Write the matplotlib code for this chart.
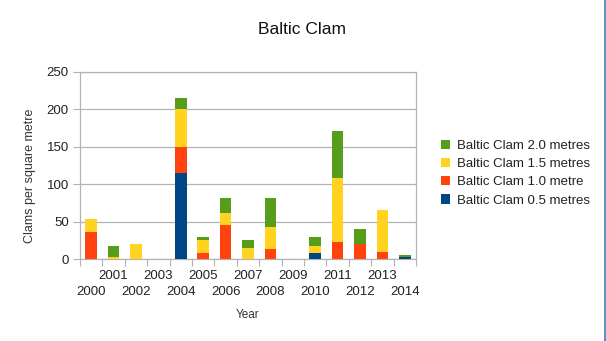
import matplotlib
matplotlib.use("Agg")
import matplotlib.pyplot as plt
import numpy as np

plt.rcParams['font.family'] = ['Liberation Sans', 'DejaVu Sans']

years = ["2000", "2001", "2002", "2003", "2004", "2005", "2006", "2007",
         "2008", "2009", "2010", "2011", "2012", "2013", "2014"]
clam_05 = [0, 0, 0, 0, 115, 0, 0, 0, 0, 0, 8, 0, 0, 0, 3]
clam_10 = [36, 0, 0, 0, 35, 8, 45, 0, 13, 0, 0, 23, 20, 10, 0]
clam_15 = [17, 3, 20, 0, 50, 18, 17, 15, 30, 0, 10, 85, 0, 55, 0]
clam_20 = [0, 15, 0, 0, 15, 3, 20, 10, 38, 0, 12, 63, 20, 0, 2]

series = [
    ("Baltic Clam 0.5 metres", clam_05, "#004586"),
    ("Baltic Clam 1.0 metre", clam_10, "#ff420e"),
    ("Baltic Clam 1.5 metres", clam_15, "#ffd320"),
    ("Baltic Clam 2.0 metres", clam_20, "#579d1c"),
]

fig = plt.figure(figsize=(6.06, 3.41), dpi=100)
ax = fig.add_axes([80 / 606, (341 - 259) / 341, (416 - 80) / 606, (259 - 72) / 341])

x = np.arange(len(years))
bottom = np.zeros(len(years))
handles = []
for label, vals, color in series:
    v = np.array(vals, dtype=float)
    h = ax.bar(x, v, width=0.52, bottom=bottom, color=color, label=label, zorder=3)
    handles.append(h)
    bottom += v

ax.set_xlim(-0.5, len(years) - 0.5)
ax.set_ylim(0, 250)
ax.set_yticks(np.arange(0, 251, 50))
ax.yaxis.grid(True, color="#b3b3b3", linewidth=0.9, zorder=0)
for s in ax.spines.values():
    s.set_color("#b3b3b3")
    s.set_linewidth(0.9)

ax.set_xticks(np.arange(-0.5, len(years), 1.0))
ax.set_xticklabels([])
for i, y in enumerate(years):
    ypos = -0.09 if i % 2 == 1 else -0.175
    ax.text(i, ypos, y, transform=ax.get_xaxis_transform(), ha="center", va="center",
            fontsize=9.5, color="#222222")

ax.tick_params(axis="x", which="major", length=5, color="#b3b3b3")
ax.tick_params(axis="y", length=5, color="#b3b3b3", labelsize=9.5, labelcolor="#222222", pad=3)

fig.text(248 / 606, 1 - 315 / 341, "Year", ha="center", va="center", fontsize=8.5, color="#333333")
fig.text(30 / 606, 1 - 176 / 341, "Clams per square metre", ha="center", va="center",
         rotation=90, fontsize=9, color="#333333")
fig.text(302 / 606, 1 - 30 / 341, "Baltic Clam", ha="center", va="center", fontsize=12.5, color="#111111")

leg = fig.legend(handles[::-1], [s[0] for s in series][::-1], loc="upper left",
                 bbox_to_anchor=(429 / 606, 1 - 128 / 341), frameon=False, fontsize=9.5,
                 handlelength=0.7, handleheight=0.7, handletextpad=0.5, labelspacing=0.45)
for t in leg.get_texts():
    t.set_color("#222222")

fig.add_artist(plt.Line2D([604.5 / 606, 604.5 / 606], [0, 1], transform=fig.transFigure,
                          color="#4a7ab0", linewidth=1.2))

fig.savefig("out.png", dpi=100)
